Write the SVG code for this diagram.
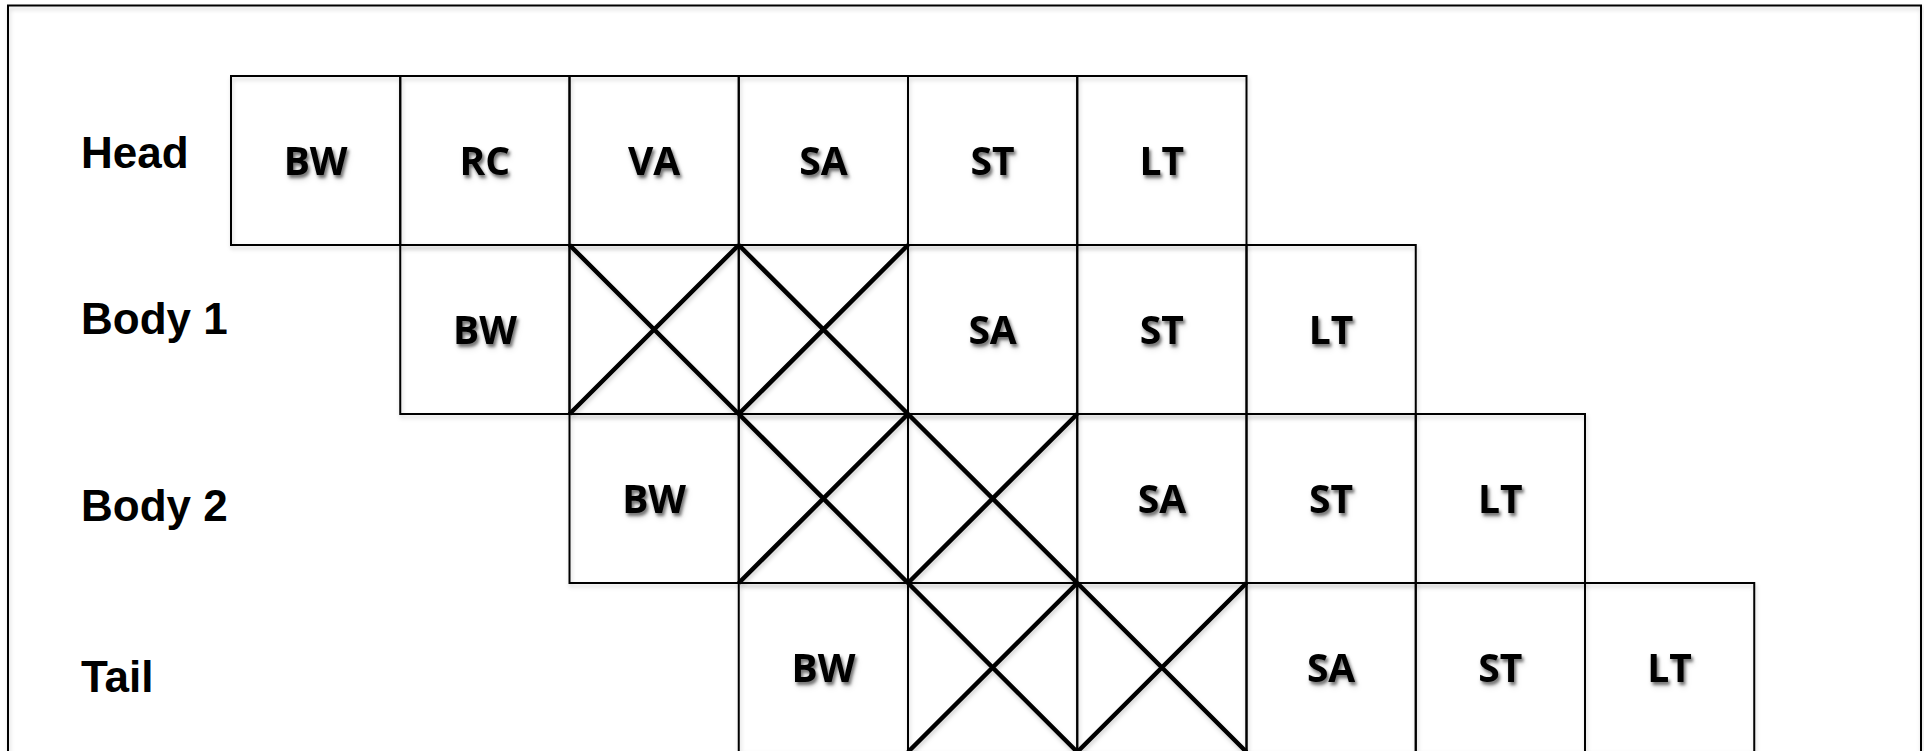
<svg xmlns="http://www.w3.org/2000/svg" width="1924" height="751" viewBox="0 0 1924 751">
<defs>
<filter id="ts" x="-20%" y="-20%" width="150%" height="160%"><feDropShadow dx="2" dy="3" stdDeviation="1.6" flood-color="#000" flood-opacity="0.45"/></filter>
<filter id="ls" x="-5%" y="-5%" width="110%" height="115%"><feDropShadow dx="1" dy="3" stdDeviation="2" flood-color="#000" flood-opacity="0.18"/></filter>
</defs>
<style>
.cell{fill:none;stroke:#000;stroke-width:2}
.x{stroke:#000;stroke-width:4.5;stroke-linecap:butt}
.lbl{font-family:"Open Sans","DejaVu Sans",sans-serif;font-weight:bold;font-size:39px;text-anchor:middle;fill:#000}
.row{font-family:"Liberation Sans",Arial,sans-serif;font-weight:bold;font-size:44px;fill:#000}
.frame{fill:none;stroke:#000;stroke-width:2}
</style>
<rect width="1924" height="751" fill="#fff"/>
<rect class="frame" x="8" y="5.5" width="1913" height="800" filter="url(#ls)"/>
<g id="row-labels">
<text class="row" x="81" y="168">Head</text>
<text class="row" x="81" y="334">Body 1</text>
<text class="row" x="81" y="521">Body 2</text>
<text class="row" x="81" y="692">Tail</text>
</g>
<g id="head" filter="url(#ls)">
<g id="head-bw"><rect class="cell" x="231" y="76" width="169.25" height="169"/><text class="lbl" x="315.6" y="174.5" filter="url(#ts)">BW</text></g>
<g id="head-rc"><rect class="cell" x="400.25" y="76" width="169.25" height="169"/><text class="lbl" x="484.9" y="174.5" filter="url(#ts)">RC</text></g>
<g id="head-va"><rect class="cell" x="569.5" y="76" width="169.25" height="169"/><text class="lbl" x="654.1" y="174.5" filter="url(#ts)">VA</text></g>
<g id="head-sa"><rect class="cell" x="738.75" y="76" width="169.25" height="169"/><text class="lbl" x="823.4" y="174.5" filter="url(#ts)">SA</text></g>
<g id="head-st"><rect class="cell" x="908" y="76" width="169.25" height="169"/><text class="lbl" x="992.6" y="174.5" filter="url(#ts)">ST</text></g>
<g id="head-lt"><rect class="cell" x="1077.25" y="76" width="169.25" height="169"/><text class="lbl" x="1161.9" y="174.5" filter="url(#ts)">LT</text></g>
</g>
<g id="body1" filter="url(#ls)">
<g id="body1-bw"><rect class="cell" x="400.25" y="245" width="169.25" height="169"/><text class="lbl" x="484.9" y="343.5" filter="url(#ts)">BW</text></g>
<g id="body1-x1"><rect class="cell" x="569.5" y="245" width="169.25" height="169"/><path class="x" d="M569.5 245L738.75 414M738.75 245L569.5 414"/></g>
<g id="body1-x2"><rect class="cell" x="738.75" y="245" width="169.25" height="169"/><path class="x" d="M738.75 245L908 414M908 245L738.75 414"/></g>
<g id="body1-sa"><rect class="cell" x="908" y="245" width="169.25" height="169"/><text class="lbl" x="992.6" y="343.5" filter="url(#ts)">SA</text></g>
<g id="body1-st"><rect class="cell" x="1077.25" y="245" width="169.25" height="169"/><text class="lbl" x="1161.9" y="343.5" filter="url(#ts)">ST</text></g>
<g id="body1-lt"><rect class="cell" x="1246.5" y="245" width="169.25" height="169"/><text class="lbl" x="1331.1" y="343.5" filter="url(#ts)">LT</text></g>
</g>
<g id="body2" filter="url(#ls)">
<g id="body2-bw"><rect class="cell" x="569.5" y="414" width="169.25" height="169"/><text class="lbl" x="654.1" y="512.5" filter="url(#ts)">BW</text></g>
<g id="body2-x1"><rect class="cell" x="738.75" y="414" width="169.25" height="169"/><path class="x" d="M738.75 414L908 583M908 414L738.75 583"/></g>
<g id="body2-x2"><rect class="cell" x="908" y="414" width="169.25" height="169"/><path class="x" d="M908 414L1077.25 583M1077.25 414L908 583"/></g>
<g id="body2-sa"><rect class="cell" x="1077.25" y="414" width="169.25" height="169"/><text class="lbl" x="1161.9" y="512.5" filter="url(#ts)">SA</text></g>
<g id="body2-st"><rect class="cell" x="1246.5" y="414" width="169.25" height="169"/><text class="lbl" x="1331.1" y="512.5" filter="url(#ts)">ST</text></g>
<g id="body2-lt"><rect class="cell" x="1415.75" y="414" width="169.25" height="169"/><text class="lbl" x="1500.4" y="512.5" filter="url(#ts)">LT</text></g>
</g>
<g id="tail" filter="url(#ls)">
<g id="tail-bw"><rect class="cell" x="738.75" y="583" width="169.25" height="169"/><text class="lbl" x="823.4" y="681.5" filter="url(#ts)">BW</text></g>
<g id="tail-x1"><rect class="cell" x="908" y="583" width="169.25" height="169"/><path class="x" d="M908 583L1077.25 752M1077.25 583L908 752"/></g>
<g id="tail-x2"><rect class="cell" x="1077.25" y="583" width="169.25" height="169"/><path class="x" d="M1077.25 583L1246.5 752M1246.5 583L1077.25 752"/></g>
<g id="tail-sa"><rect class="cell" x="1246.5" y="583" width="169.25" height="169"/><text class="lbl" x="1331.1" y="681.5" filter="url(#ts)">SA</text></g>
<g id="tail-st"><rect class="cell" x="1415.75" y="583" width="169.25" height="169"/><text class="lbl" x="1500.4" y="681.5" filter="url(#ts)">ST</text></g>
<g id="tail-lt"><rect class="cell" x="1585" y="583" width="169.25" height="169"/><text class="lbl" x="1669.6" y="681.5" filter="url(#ts)">LT</text></g>
</g>
<g id="connectors"/>
</svg>
